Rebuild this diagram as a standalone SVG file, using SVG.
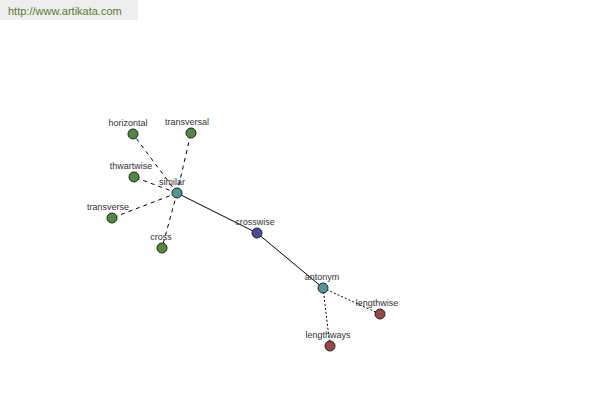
<svg xmlns="http://www.w3.org/2000/svg" width="600" height="400" viewBox="0 0 600 400">
<style>
.lbl{font-family:"Liberation Sans",Arial,sans-serif;font-size:9px;fill:#333;text-anchor:middle}
.n{stroke:#222;stroke-width:1}
.g{fill:#4f8a3f}.t{fill:#4a9a9c}.b{fill:#4a4a9c}.r{fill:#9c4444}
.dash{stroke:#000;stroke-width:1;stroke-dasharray:4,4;fill:none}
.dot{stroke:#000;stroke-width:1;stroke-dasharray:2,2;fill:none}
.sol{stroke:#000;stroke-width:1;fill:none}
</style>
<rect x="0" y="0" width="600" height="400" fill="#fff"/>
<rect x="0" y="0" width="138" height="20" fill="#eeeeee"/>
<text x="8" y="15" style="font-family:'Liberation Sans',Arial,sans-serif;font-size:11px;fill:#5a7a30">http://www.artikata.com</text>
<g id="connectors">
<line class="dash" x1="177" y1="193" x2="133" y2="134"/>
<line class="dash" x1="177" y1="193" x2="191" y2="133"/>
<line class="dash" x1="177" y1="193" x2="134" y2="177"/>
<line class="dash" x1="177" y1="193" x2="112" y2="218"/>
<line class="dash" x1="177" y1="193" x2="162" y2="248"/>
<line class="sol" x1="177" y1="193" x2="257" y2="233"/>
<line class="sol" x1="257" y1="233" x2="323" y2="288"/>
<line class="dot" x1="323" y1="288" x2="380" y2="314"/>
<line class="dot" x1="323" y1="288" x2="330" y2="346"/>
</g>
<g id="horizontal"><circle class="n g" cx="133" cy="134" r="5"/><text class="lbl" x="128" y="126">horizontal</text></g>
<g id="transversal"><circle class="n g" cx="191" cy="133" r="5"/><text class="lbl" x="187" y="125">transversal</text></g>
<g id="thwartwise"><circle class="n g" cx="134" cy="177" r="5"/><text class="lbl" x="131" y="169">thwartwise</text></g>
<g id="transverse"><circle class="n g" cx="112" cy="218" r="5"/><text class="lbl" x="108" y="210">transverse</text></g>
<g id="cross"><circle class="n g" cx="162" cy="248" r="5"/><text class="lbl" x="161" y="240">cross</text></g>
<g id="similar"><circle class="n t" cx="177" cy="193" r="5"/><text class="lbl" x="172" y="185">similar</text></g>
<g id="crosswise"><circle class="n b" cx="257" cy="233" r="5"/><text class="lbl" x="255" y="225">crosswise</text></g>
<g id="antonym"><circle class="n t" cx="323" cy="288" r="5"/><text class="lbl" x="322" y="280">antonym</text></g>
<g id="lengthwise"><circle class="n r" cx="380" cy="314" r="5"/><text class="lbl" x="377" y="306">lengthwise</text></g>
<g id="lengthways"><circle class="n r" cx="330" cy="346" r="5"/><text class="lbl" x="328" y="338">lengthways</text></g>
</svg>
